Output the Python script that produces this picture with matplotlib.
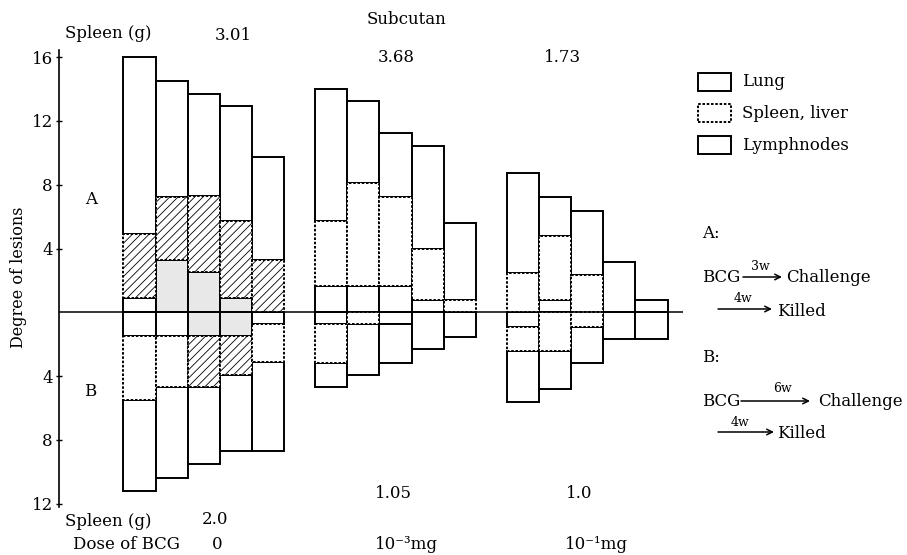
"""
Degree of lesions after BCG vaccination and challenge (A: 3w, B: 6w)
"""

import matplotlib.pyplot as plt
from matplotlib.patches import Rectangle

plt.rcParams['font.family'] = 'serif'
plt.rcParams['font.serif'] = ['DejaVu Serif', 'Liberation Serif']
plt.rcParams['hatch.linewidth'] = 0.6
plt.rcParams['hatch.color'] = '#808080'

W, H = 907, 555

doses = ['0', '10⁻³mg', '10⁻¹mg']
spleen_a = ['3.01', '3.68', '1.73']
spleen_b = ['2.0', '1.05', '1.0']
organs = ['Lung', 'Spleen, liver', 'Lymphnodes']

# cumulative levels per bar (5 bars per dose): lymphnodes, + spleen/liver, + lung
a_lymph = [0.9, 3.3, 2.5, 0.9, 0, 1.65, 1.65, 1.65, 0.8, 0, 0, 0.75, 0, 0, 0]
a_spleen = [4.9, 7.2, 7.3, 5.7, 3.3, 5.7, 8.1, 7.2, 4.0, 0.8, 2.45, 4.8, 2.35, 0, 0]
a_lung = [16.0, 14.5, 13.7, 12.9, 9.75, 14.0, 13.25, 11.25, 10.45, 5.6, 8.75, 7.2, 6.35, 3.15, 0.75]

b_lymph = [1.5, 1.5, 1.5, 1.5, 0.75, 0.75, 0, 0.75, 0, 0, 0.9, 0, 0, 0, 0]
b_spleen = [5.5, 4.65, 4.65, 3.9, 3.1, 3.15, 0.75, 0.75, 0, 0, 2.4, 2.4, 0.9, 0, 0]
b_lung = [11.2, 10.4, 9.5, 8.7, 8.7, 4.7, 3.95, 3.15, 2.3, 1.55, 5.65, 4.8, 3.2, 1.65, 1.65]

# shading used in the control group
a_hatch = [True, True, True, True, True] + [False] * 10
a_shade = [False, True, True, True, False] + [False] * 10
b_hatch = [False, False, True, True, False] + [False] * 10
b_shade = [False, False, True, True, False] + [False] * 10

group_start = [2.0, 7.95, 13.9]
xs = [group_start[i // 5] + i % 5 for i in range(15)]

LW = 1.4
DASH = (0, (1.3, 0.9))


def fx(px):
    return px / W


def fy(py):
    return 1 - py / H


fig = plt.figure(figsize=(W / 100, H / 100), dpi=100)
ax = fig.add_axes([fx(59), fy(507), fx(683) - fx(59), fy(50) - fy(507)])


def draw_panel(lymph, spleen, lung, hatch, shade, sign):
    for i, x in enumerate(xs):
        lo, mid, hi = lymph[i], spleen[i], lung[i]
        if lo > 0:
            ax.bar(x, sign * lo, width=1, align='edge', bottom=0,
                   facecolor='#e8e8e8' if shade[i] else 'white',
                   edgecolor='black', linewidth=LW, zorder=2)
        if hi > mid:
            ax.bar(x, sign * (hi - mid), width=1, align='edge', bottom=sign * mid,
                   facecolor='white', edgecolor='black', linewidth=LW, zorder=2)
        if mid > lo:
            ax.bar(x, sign * (mid - lo), width=1, align='edge', bottom=sign * lo,
                   facecolor='white', edgecolor='black', linewidth=LW,
                   linestyle=DASH, hatch='////' if hatch[i] else None, zorder=3)


draw_panel(a_lymph, a_spleen, a_lung, a_hatch, a_shade, 1)
draw_panel(b_lymph, b_spleen, b_lung, b_hatch, b_shade, -1)

ax.axhline(0, color='black', linewidth=1.1, zorder=4)

ax.set_xlim(0, 19.38)
ax.set_ylim(-12.2, 16.44)
for s in ['top', 'right', 'bottom']:
    ax.spines[s].set_visible(False)
ax.spines['left'].set_linewidth(1.2)
ax.set_xticks([])
ax.set_yticks([16, 12, 8, 4, -4, -8, -12])
ax.set_yticklabels(['16', '12', '8', '4', '4', '8', '12'])
ax.tick_params(axis='y', direction='inout', length=5, width=1, labelsize=12, pad=2)
ax.patch.set_alpha(0)

fs = 12
fig.text(fx(19), fy(277), 'Degree of lesions', rotation=90, ha='center', va='center', fontsize=11.5)

fig.text(fx(406), fy(19), 'Subcutan', ha='center', va='center', fontsize=fs)
fig.text(fx(108), fy(34), 'Spleen (g)', ha='center', va='center', fontsize=fs)
fig.text(fx(91), fy(200), 'A', ha='center', va='center', fontsize=fs)
fig.text(fx(90), fy(392), 'B', ha='center', va='center', fontsize=fs)
fig.text(fx(108), fy(521), 'Spleen (g)', ha='center', va='center', fontsize=fs)
fig.text(fx(126), fy(549), 'Dose of BCG', ha='center', va='baseline', fontsize=fs)

top_x = [233, 396, 563]
bot_x = [215, 393, 579]
dose_x = [217, 406, 596]
for i in range(3):
    fig.text(fx(top_x[i]), fy(35 if i == 0 else 57), spleen_a[i], ha='center', va='center', fontsize=fs)
    fig.text(fx(bot_x[i]), fy(520 if i == 0 else 494), spleen_b[i], ha='center', va='center', fontsize=fs)
    fig.text(fx(dose_x[i]), fy(549), doses[i], ha='center', va='baseline', fontsize=fs)

# legend
box_y = [82, 113, 145]
for i, name in enumerate(organs):
    fig.patches.append(Rectangle((fx(698), fy(box_y[i] + 9)), fx(33), fy(0) - fy(18),
                                 transform=fig.transFigure, facecolor='white',
                                 edgecolor='black', linewidth=LW,
                                 linestyle=DASH if i == 1 else '-'))
    fig.text(fx(742), fy(box_y[i]), name, ha='left', va='center', fontsize=fs)


def arrow(x1, x2, y, label, lx, ly):
    fig.add_artist(plt.Annotation('', xy=(fx(x2), fy(y)), xytext=(fx(x1), fy(y)),
                                  xycoords='figure fraction', textcoords='figure fraction',
                                  arrowprops=dict(arrowstyle='->', lw=1.1, color='black',
                                                  shrinkA=0, shrinkB=0)))
    fig.text(fx(lx), fy(ly), label, ha='center', va='center', fontsize=9)


fig.text(fx(702), fy(234), 'A:', ha='left', va='center', fontsize=fs)
fig.text(fx(702), fy(278), 'BCG', ha='left', va='center', fontsize=fs)
arrow(743, 782, 277, '3w', 760, 266)
fig.text(fx(786), fy(278), 'Challenge', ha='left', va='center', fontsize=fs)
arrow(718, 772, 309, '4w', 743, 298)
fig.text(fx(777), fy(311), 'Killed', ha='left', va='center', fontsize=fs)

fig.text(fx(702), fy(357), 'B:', ha='left', va='center', fontsize=fs)
fig.text(fx(702), fy(402), 'BCG', ha='left', va='center', fontsize=fs)
arrow(741, 810, 401, '6w', 783, 389)
fig.text(fx(818), fy(402), 'Challenge', ha='left', va='center', fontsize=fs)
arrow(718, 774, 432, '4w', 740, 422)
fig.text(fx(777), fy(433), 'Killed', ha='left', va='center', fontsize=fs)

fig.savefig('out.png', dpi=100)
